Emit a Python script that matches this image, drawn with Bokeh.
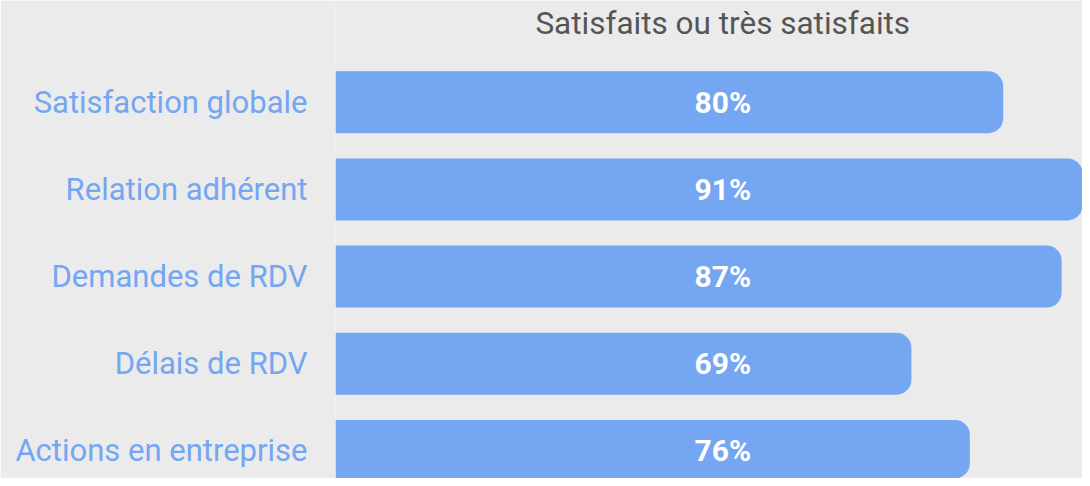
from bokeh.plotting import figure
from bokeh.models import Range1d, FixedTicker, ColumnDataSource
from bokeh.core.properties import value
from bokeh.embed import file_html
from bokeh.resources import INLINE

categories = ["Satisfaction globale", "Relation adhérent", "Demandes de RDV",
              "Délais de RDV", "Actions en entreprise"]
values = [80, 91, 87, 69, 76]
value_labels = ["80%", "91%", "87%", "69%", "76%"]
title_text = "Satisfaits ou très satisfaits"

BG = "#ebebeb"
BAR = "#74a6f1"
FONT = "Roboto"

pos = list(range(len(categories)))
src = ColumnDataSource(dict(y=pos, v=values, lab=value_labels,
                            lx=[46.4] * len(pos)))

p = figure(width=1082, height=478, output_backend="svg", toolbar_location=None,
           x_range=Range1d(0, 89.5), y_range=Range1d(4.317, -1.168),
           min_border_left=335, min_border_right=0, min_border_top=0,
           min_border_bottom=0, background_fill_color=BG,
           border_fill_color=BG, outline_line_color=None)

p.hbar(y="y", right="v", left=0, height=0.711, source=src, fill_color=BAR,
       line_color=None, border_radius=(0, 15, 15, 0))

p.text(x="lx", y="y", text="lab", source=src, text_color="white",
       text_font=value(FONT), text_font_style="bold", text_font_size="30px",
       text_align="center", text_baseline="middle")

p.text(x=[46.4], y=[-0.909], text=[title_text], text_color="#555555",
       text_font=value(FONT), text_font_size="31.5px", text_align="center",
       text_baseline="middle")

p.xaxis.visible = False
p.xgrid.visible = False
p.ygrid.visible = False

ax = p.yaxis[0]
ax.ticker = FixedTicker(ticks=pos)
ax.major_label_overrides = {i: c for i, c in zip(pos, categories)}
ax.axis_line_color = None
ax.major_tick_line_color = None
ax.minor_tick_line_color = None
ax.major_tick_out = 0
ax.major_tick_in = 0
ax.major_label_standoff = 28
ax.major_label_text_font = FONT
ax.major_label_text_font_size = "31px"
ax.major_label_text_color = BAR

open("out.html", "w").write(file_html(p, INLINE))
